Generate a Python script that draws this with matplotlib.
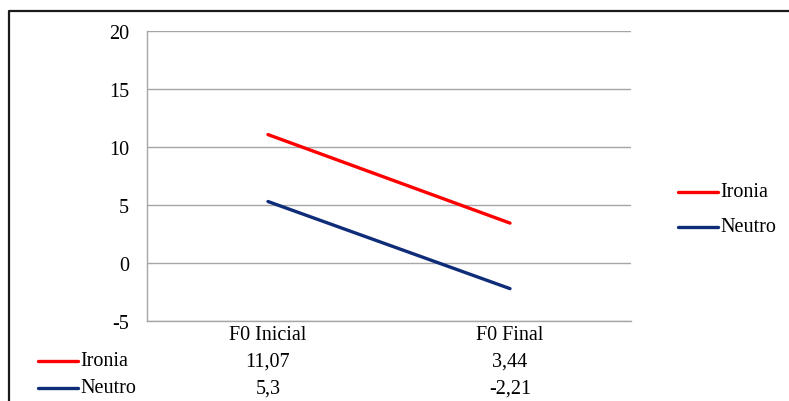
import matplotlib
matplotlib.use('Agg')
import matplotlib.pyplot as plt
from matplotlib.lines import Line2D
from matplotlib.transforms import blended_transform_factory

categories = ['F0 Inicial', 'F0 Final']
series_names = ['Ironia', 'Neutro']
ironia = [11.07, 3.44]
neutro = [5.3, -2.21]
ironia_labels = ['11,07', '3,44']
neutro_labels = ['5,3', '-2,21']
yticks = [-5, 0, 5, 10, 15, 20]

red = '#FF0000'
navy = '#0E2C78'
grid = '#A6A6A6'

plt.rcParams['font.family'] = ['Liberation Serif', 'DejaVu Serif']
fs = 14.5

W, H = 789, 402
fig = plt.figure(figsize=(W / 100, H / 100), dpi=100)
ax = fig.add_axes([147 / W, 1 - 322 / H, 484 / W, 290 / H])

x = list(range(len(categories)))
ax.plot(x, ironia, color=red, lw=2.4, solid_capstyle='round', label=series_names[0])
ax.plot(x, neutro, color=navy, lw=2.4, solid_capstyle='round', label=series_names[1])

ax.set_xlim(-0.5, len(categories) - 0.5)
ax.set_ylim(-5, 20)
ax.set_yticks(yticks)
ax.set_yticklabels([str(t) for t in yticks], fontsize=fs)
ax.set_xticks([])
ax.tick_params(axis='y', length=0, pad=13)
ax.yaxis.grid(True, color=grid, lw=1)
ax.set_axisbelow(True)
for s in ['top', 'right']:
    ax.spines[s].set_visible(False)
for s in ['left', 'bottom']:
    ax.spines[s].set_color(grid)
    ax.spines[s].set_linewidth(1)

# data table below the plot
tr = blended_transform_factory(ax.transData, fig.transFigure)
rows_y = [1 - 336 / H, 1 - 362 / H, 1 - 389 / H]
for i, c in enumerate(categories):
    ax.text(i, rows_y[0], c, transform=tr, ha='center', va='center', fontsize=fs)
    ax.text(i, rows_y[1], ironia_labels[i], transform=tr, ha='center', va='center', fontsize=fs)
    ax.text(i, rows_y[2], neutro_labels[i], transform=tr, ha='center', va='center', fontsize=fs)

for name, col, yy in zip(series_names, [red, navy], rows_y[1:]):
    fig.add_artist(Line2D([38 / W, 78 / W], [yy, yy], color=col, lw=2.4,
                          solid_capstyle='round', transform=fig.transFigure))
    fig.text(80 / W, yy, name, ha='left', va='center', fontsize=fs)

# legend on the right
leg_y = [1 - 193 / H, 1 - 228 / H]
for name, col, yy in zip(series_names, [red, navy], leg_y):
    fig.add_artist(Line2D([678 / W, 718 / W], [yy, yy], color=col, lw=2.4,
                          solid_capstyle='round', transform=fig.transFigure))
    fig.text(720 / W, yy, name, ha='left', va='center', fontsize=fs)

# outer chart border (left and top)
fig.add_artist(Line2D([8.5 / W, 8.5 / W, 1.0], [0.0, 1 - 11.5 / H, 1 - 11.5 / H],
                      color='#1A1A1A', lw=1.6, transform=fig.transFigure))

fig.savefig('out.png', dpi=100)
